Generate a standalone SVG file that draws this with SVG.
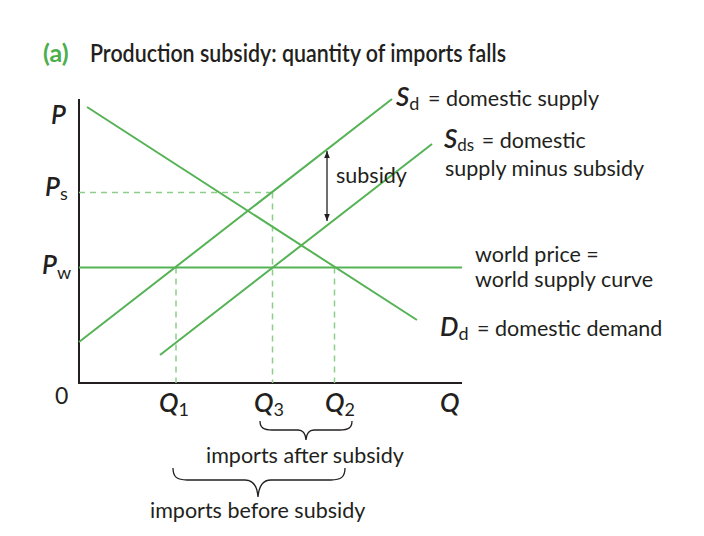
<svg xmlns="http://www.w3.org/2000/svg" width="704" height="536" viewBox="0 0 704 536">
<defs>
<marker id="ah" viewBox="0 0 10 10" refX="10" refY="5" markerWidth="10" markerHeight="7" markerUnits="userSpaceOnUse" orient="auto-start-reverse">
<path d="M0,1 L10,5 L0,9 z" fill="#231f20"/>
</marker>
<style>
.t{font-family:Lato,"Open Sans",sans-serif;fill:#231f20;font-size:21.5px}
.v{font-family:Lato,"Open Sans",sans-serif;fill:#231f20;font-style:italic;font-weight:600;font-size:26px}
.s{font-style:normal;font-weight:normal;font-size:18px}
.g{stroke:#55b255;stroke-width:2;fill:none}
.d{stroke:#8ccd89;stroke-width:1.5;stroke-dasharray:6 5;fill:none}
.ax{stroke:#231f20;stroke-width:2;fill:none}
.br{stroke:#231f20;stroke-width:1.3;fill:none}
</style>
</defs>
<rect width="704" height="536" fill="#fff"/>
<g id="title">
<text x="43" y="62" style="font-family:Lato,'Open Sans',sans-serif;font-weight:bold;font-size:25px;fill:#4cae4c">(a)</text>
<text x="90" y="62" textLength="416" lengthAdjust="spacingAndGlyphs" style="font-family:Lato,'Open Sans',sans-serif;font-weight:600;font-size:25px;fill:#231f20">Production subsidy: quantity of imports falls</text>
</g>
<g id="axes">
<polyline class="ax" points="79,99 79,383 462,383"/>
<text class="v" x="51" y="124">P</text>
<text class="v" x="45" y="196">P<tspan class="s" dy="4">s</tspan></text>
<text class="v" x="42" y="274">P<tspan class="s" dy="5">w</tspan></text>
<text class="t" x="55" y="404" style="font-size:23px">0</text>
<text class="v" x="159" y="412">Q<tspan class="s" dy="4">1</tspan></text>
<text class="v" x="254" y="412">Q<tspan class="s" dy="4">3</tspan></text>
<text class="v" x="325" y="412">Q<tspan class="s" dy="4">2</tspan></text>
<text class="v" x="440" y="412">Q</text>
</g>
<g id="guides">
<path class="d" d="M79,192.5 H272 M272.5,192.5 V383 M176,267.5 V383 M334.5,267.5 V383"/>
</g>
<g id="curves">
<line id="world-price" class="g" x1="79" y1="267.5" x2="462" y2="267.5"/>
<line id="demand" class="g" x1="87" y1="107" x2="417" y2="320"/>
<line id="sd" class="g" x1="79" y1="342" x2="392" y2="99"/>
<line id="sds" class="g" x1="160" y1="355" x2="432" y2="144"/>
</g>
<g id="connectors">
<line x1="327" y1="151" x2="327" y2="221" stroke="#231f20" stroke-width="1.3" marker-start="url(#ah)" marker-end="url(#ah)"/>
</g>
<g id="labels">
<text class="t" x="336" y="183">subsidy</text>
<text class="t" x="396" y="106"><tspan class="v">S</tspan><tspan class="s" dy="4">d</tspan><tspan dy="-4" dx="3"> = domestic supply</tspan></text>
<text class="t" x="444" y="148"><tspan class="v">S</tspan><tspan class="s" dy="3" style="font-size:17px">ds</tspan><tspan dy="-3" dx="2"> = domestic</tspan></text>
<text class="t" x="445" y="176">supply minus subsidy</text>
<text class="t" x="475" y="262">world price =</text>
<text class="t" x="475" y="287">world supply curve</text>
<text class="t" x="440" y="336"><tspan class="v">D</tspan><tspan class="s" dy="4">d</tspan><tspan dy="-4" dx="3"> = domestic demand</tspan></text>
</g>
<g id="braces">
<path class="br" d="M260,421 C260,428 264,430 272,430 L298,430 C303,430 305.5,433 306,440 C306.5,433 309,430 314,430 L340,430 C348,430 352,428 352,421"/>
<text class="t" x="206" y="463">imports after subsidy</text>
<path class="br" d="M173,468 C173,477 177,480 187,480 L245,480 C252,480 257,484 258,497 C259,484 264,480 271,480 L331,480 C341,480 345,477 345,468"/>
<text class="t" x="150" y="518">imports before subsidy</text>
</g>
</svg>
